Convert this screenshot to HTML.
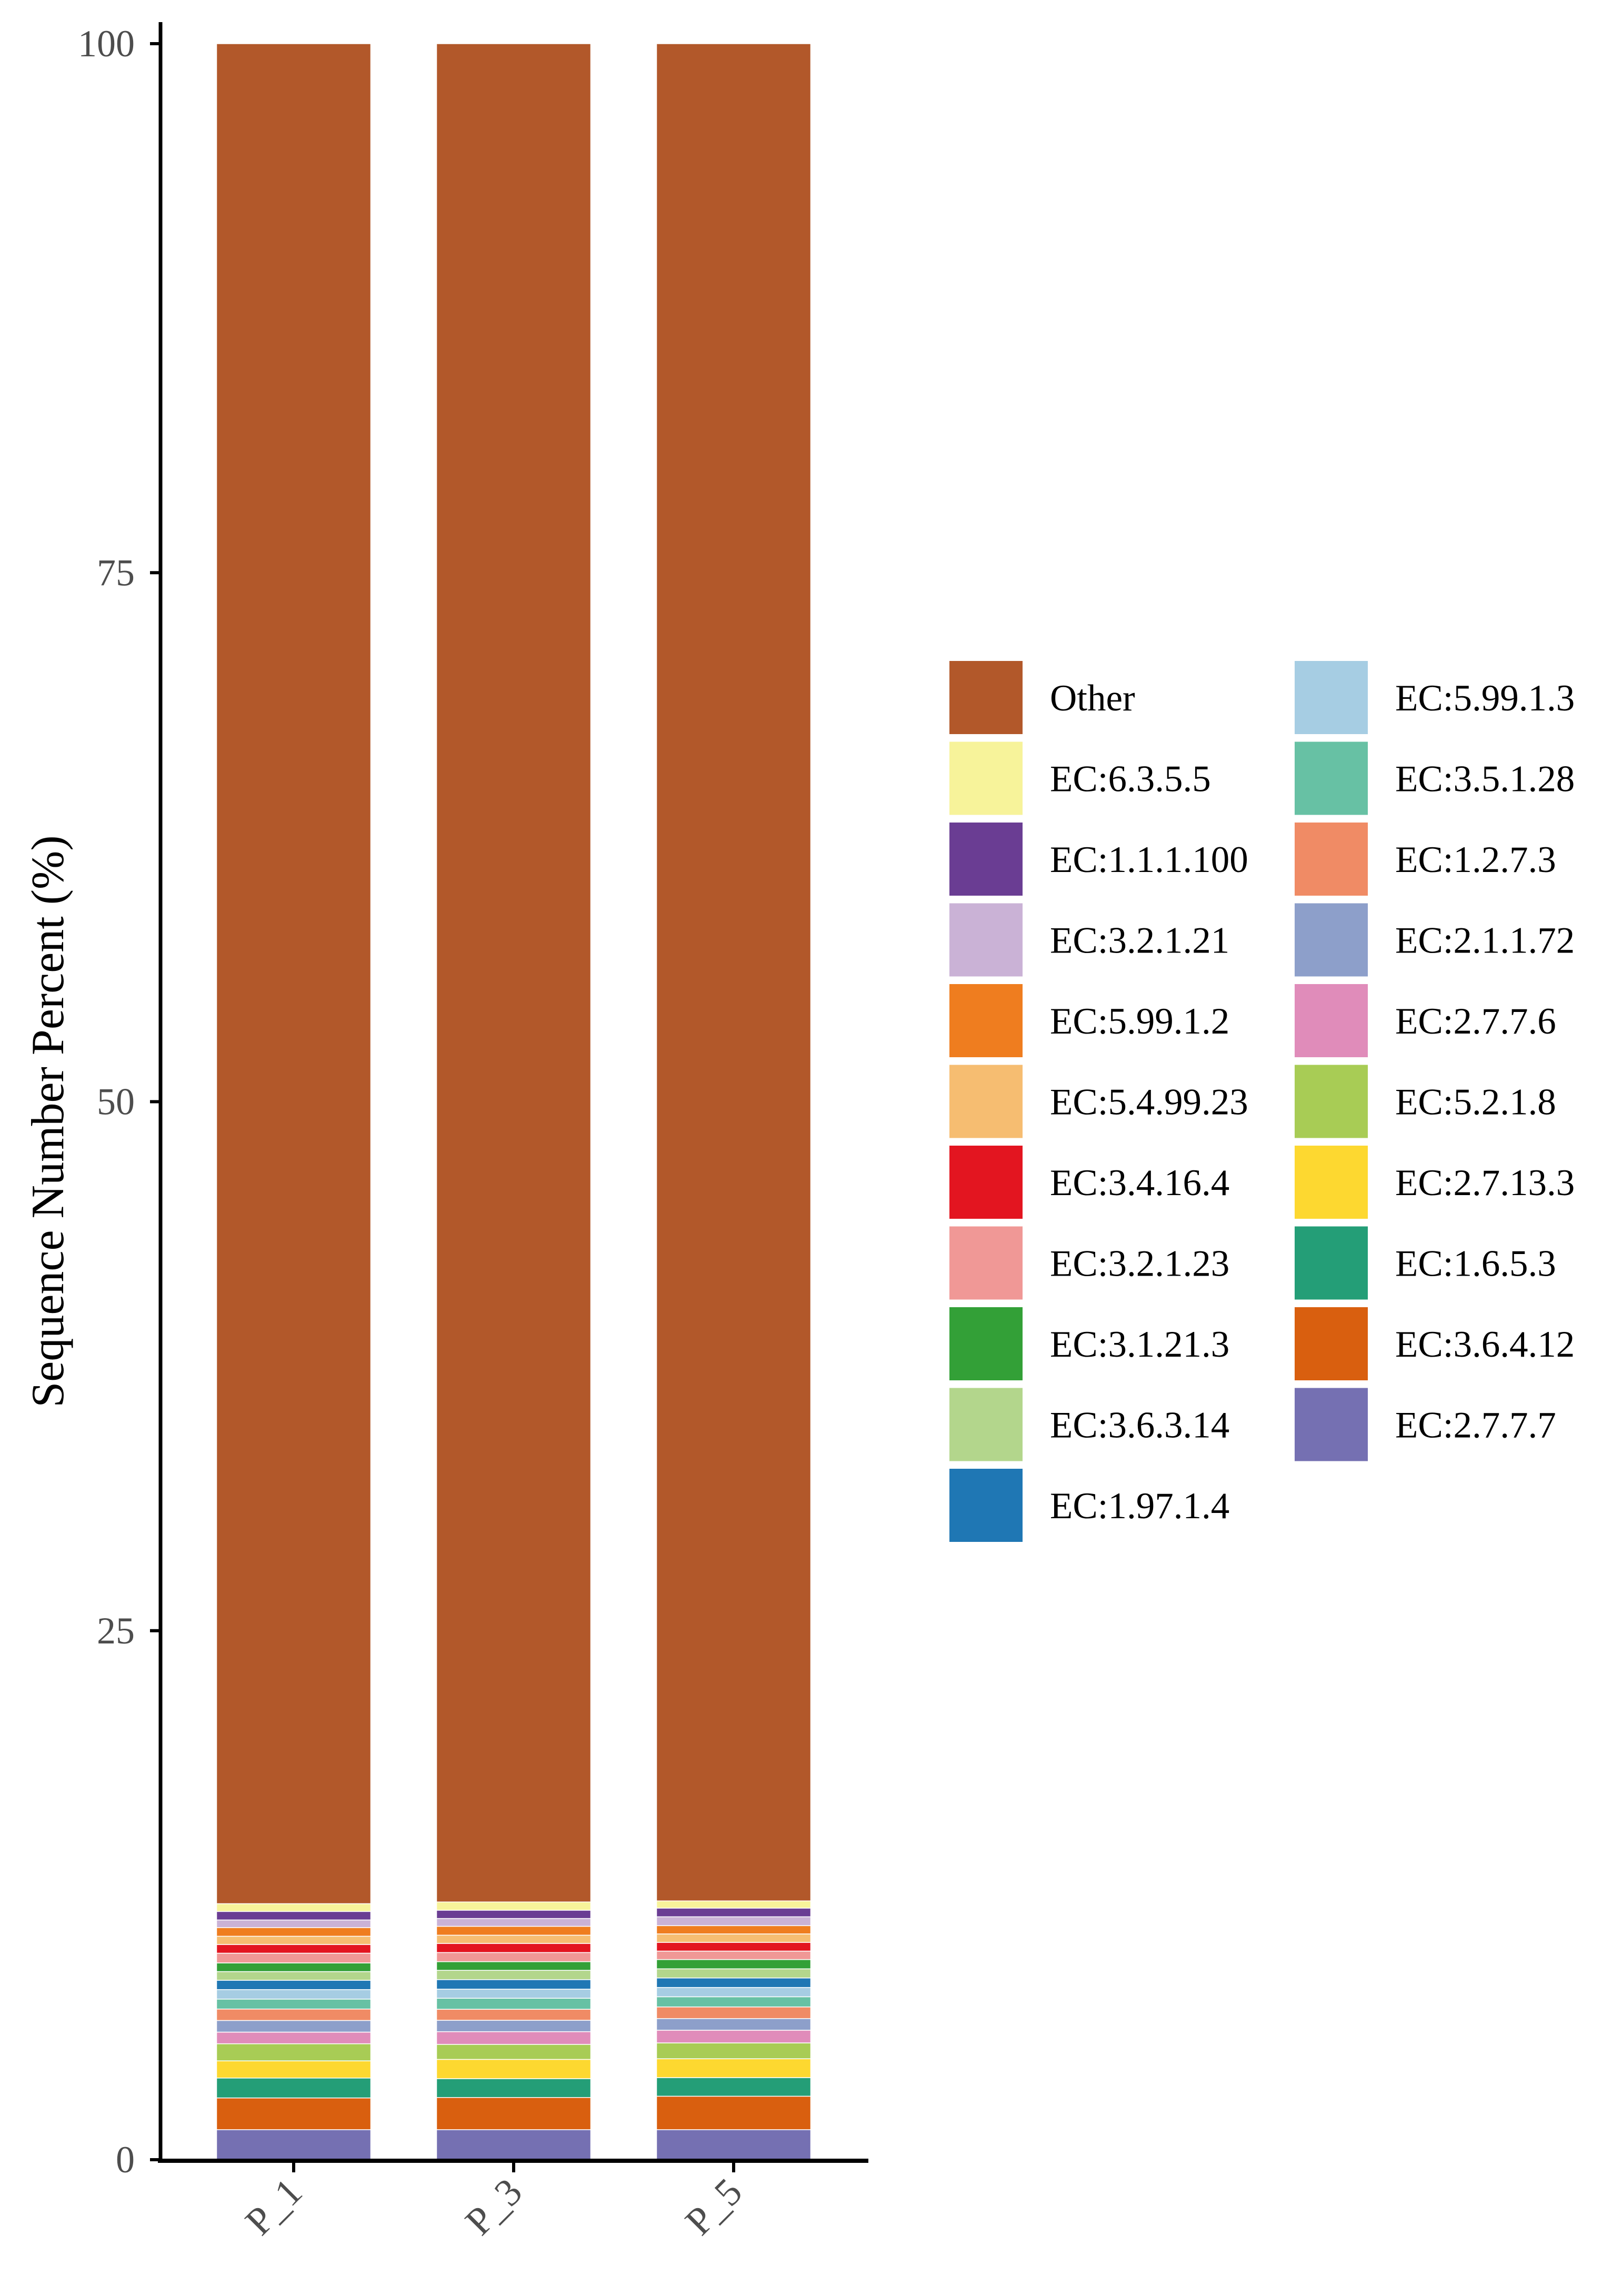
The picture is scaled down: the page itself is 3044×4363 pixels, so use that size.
<!DOCTYPE html>
<html><head><meta charset="utf-8"><style>
html,body{margin:0;padding:0;background:#fff;}
svg{display:block;}
text{font-family:"Liberation Serif",serif;}
</style></head><body>
<svg id="chart" width="3044" height="4363" viewBox="0 0 3044 4363" xmlns="http://www.w3.org/2000/svg">
<rect x="0" y="0" width="3044" height="4363" fill="#fff"/>
<g id="bars"></g>
<g id="axes"></g>
<text transform="translate(120,2131) rotate(-90)" text-anchor="middle" font-size="88" fill="#000">Sequence Number Percent (%)</text>
<g id="legend"></g>
</svg>
<script>
const samples = ["P_1","P_3","P_5"];
const categories = ["EC:2.7.7.7","EC:3.6.4.12","EC:1.6.5.3","EC:2.7.13.3","EC:5.2.1.8","EC:2.7.7.6","EC:2.1.1.72","EC:1.2.7.3","EC:3.5.1.28","EC:5.99.1.3","EC:1.97.1.4","EC:3.6.3.14","EC:3.1.21.3","EC:3.2.1.23","EC:3.4.16.4","EC:5.4.99.23","EC:5.99.1.2","EC:3.2.1.21","EC:1.1.1.100","EC:6.3.5.5"];
const valuesP1 = [1.42,1.50,0.94,0.81,0.81,0.55,0.55,0.54,0.47,0.45,0.44,0.41,0.41,0.46,0.41,0.39,0.41,0.36,0.40,0.37];
const valuesP3 = [1.42,1.52,0.89,0.91,0.71,0.60,0.54,0.52,0.52,0.43,0.45,0.44,0.41,0.43,0.43,0.39,0.42,0.37,0.39,0.39];
const valuesP5 = [1.42,1.58,0.88,0.89,0.75,0.60,0.55,0.55,0.48,0.44,0.45,0.43,0.44,0.40,0.41,0.40,0.39,0.42,0.41,0.34];
const yTicks = [0,25,50,75,100];
const legendOrder = ["Other","EC:6.3.5.5","EC:1.1.1.100","EC:3.2.1.21","EC:5.99.1.2","EC:5.4.99.23","EC:3.4.16.4","EC:3.2.1.23","EC:3.1.21.3","EC:3.6.3.14","EC:1.97.1.4","EC:5.99.1.3","EC:3.5.1.28","EC:1.2.7.3","EC:2.1.1.72","EC:2.7.7.6","EC:5.2.1.8","EC:2.7.13.3","EC:1.6.5.3","EC:3.6.4.12","EC:2.7.7.7"];

const colors = {"Other":"#b2582a","EC:6.3.5.5":"#f7f39a","EC:1.1.1.100":"#6a3d93","EC:3.2.1.21":"#cab2d6","EC:5.99.1.2":"#ef7d1f","EC:5.4.99.23":"#f6bd71","EC:3.4.16.4":"#e31520","EC:3.2.1.23":"#f09896","EC:3.1.21.3":"#33a037","EC:3.6.3.14":"#b3d68c","EC:1.97.1.4":"#1f77b4","EC:5.99.1.3":"#a6cde3","EC:3.5.1.28":"#67c1a4","EC:1.2.7.3":"#f08b65","EC:2.1.1.72":"#8d9fca","EC:2.7.7.6":"#e08cba","EC:5.2.1.8":"#a8cc55","EC:2.7.13.3":"#fdd830","EC:1.6.5.3":"#249e77","EC:3.6.4.12":"#d95f0f","EC:2.7.7.7":"#7570b2"};
const NS="http://www.w3.org/2000/svg";
const y0=4104, y100=83;
function yScale(v){return y0-(y0-y100)*v/100;}
const barW=293;
function xCenter(i){return 558+i*418;}
const allVals=[valuesP1,valuesP3,valuesP5];
const bars=document.getElementById('bars');
samples.forEach((s,i)=>{
  let cum=0;
  const vals=allVals[i];
  const segs=categories.map((c,k)=>[c,vals[k]]);
  const sum=vals.reduce((a,b)=>a+b,0);
  segs.push(["Other",100-sum]);
  segs.forEach(([c,v])=>{
    const r=document.createElementNS(NS,'rect');
    
    
    const yt=yScale(cum+v), yb=yScale(cum);
    r.setAttribute('x',xCenter(i)-barW/2);
    r.setAttribute('y',yt);
    r.setAttribute('width',barW);
    r.setAttribute('height',yb-yt);
    r.setAttribute('fill',colors[c]);
    r.setAttribute('stroke','#fff');
    r.setAttribute('stroke-width','1.5');
    bars.appendChild(r);
    cum+=v;
  });
});
const axes=document.getElementById('axes');
function line(x1,y1,x2,y2,w,name){
  const l=document.createElementNS(NS,'line');
  
  
  l.setAttribute('x1',x1);l.setAttribute('y1',y1);l.setAttribute('x2',x2);l.setAttribute('y2',y2);
  l.setAttribute('stroke','#000');l.setAttribute('stroke-width',w);
  axes.appendChild(l);
}
line(305,42,305,4109,7,'y-axis-line');
line(300,4106,1650,4106,8,'x-axis-line');
yTicks.forEach(t=>{
  const y=yScale(t);
  line(285,y,305,y,6,'y-tick');
  const tx=document.createElementNS(NS,'text');
  
  
  tx.setAttribute('x',256);tx.setAttribute('y',y+24);
  tx.setAttribute('text-anchor','end');tx.setAttribute('font-size','72');tx.setAttribute('fill','#4d4d4d');
  tx.textContent=t;
  axes.appendChild(tx);
});
samples.forEach((s,i)=>{
  const x=xCenter(i);
  line(x,4106,x,4128,6,'x-tick');
  const tx=document.createElementNS(NS,'text');
  
  
  tx.setAttribute('transform','translate('+(x+20)+',4170) rotate(-45)');
  tx.setAttribute('text-anchor','end');tx.setAttribute('font-size','74');tx.setAttribute('fill','#4d4d4d');
  tx.textContent=s;
  axes.appendChild(tx);
});
const legend=document.getElementById('legend');
legendOrder.forEach((c,k)=>{
  const col=k<11?0:1, row=k<11?k:k-11;
  const kx=col?2460:1804, ky=1256+row*153.5;
  const r=document.createElementNS(NS,'rect');
  
  
  r.setAttribute('x',kx);r.setAttribute('y',ky);r.setAttribute('width',139);r.setAttribute('height',139);
  r.setAttribute('fill',colors[c]);
  legend.appendChild(r);
  const tx=document.createElementNS(NS,'text');
  
  
  tx.setAttribute('x',kx+191);tx.setAttribute('y',ky+94);
  tx.setAttribute('font-size','71');tx.setAttribute('fill','#000');
  tx.textContent=c;
  legend.appendChild(tx);
});
</script>
</body></html>
